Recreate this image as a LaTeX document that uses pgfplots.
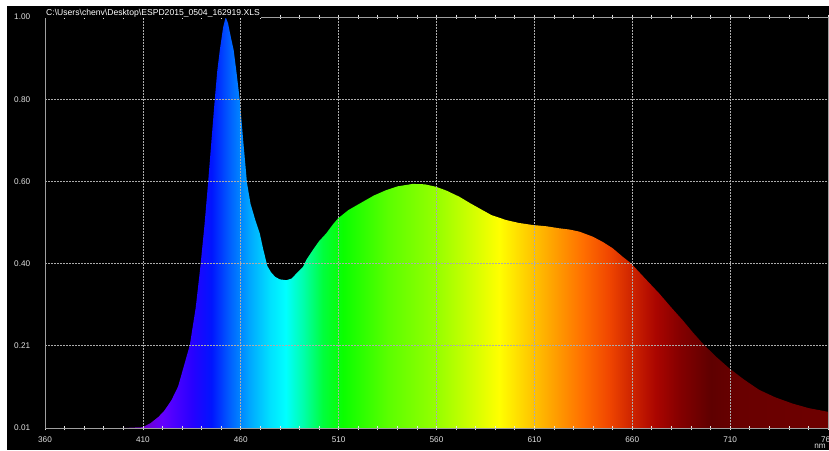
\documentclass[border=0pt]{standalone}
\usepackage{pgfplots}
\pgfplotsset{compat=1.18}
\usepackage{fontspec}
\setmainfont{Liberation Sans}
\pgfdeclarehorizontalshading{spectrum}{100bp}{%
color(0bp)=(rgb,255:red,120;green,60;blue,200);
color(25bp)=(rgb,255:red,120;green,60;blue,200);
color(30bp)=(rgb,255:red,100;green,0;blue,160);
color(31.25bp)=(rgb,255:red,110;green,0;blue,200);
color(32.5bp)=(rgb,255:red,100;green,0;blue,255);
color(34.375bp)=(rgb,255:red,40;green,0;blue,255);
color(35.625bp)=(rgb,255:red,0;green,20;blue,255);
color(36.875bp)=(rgb,255:red,0;green,100;blue,255);
color(38.125bp)=(rgb,255:red,0;green,170;blue,255);
color(39.375bp)=(rgb,255:red,0;green,225;blue,255);
color(40.375bp)=(rgb,255:red,0;green,255;blue,255);
color(41.5bp)=(rgb,255:red,0;green,255;blue,170);
color(42.75bp)=(rgb,255:red,0;green,255;blue,60);
color(44bp)=(rgb,255:red,10;green,255;blue,0);
color(46.875bp)=(rgb,255:red,90;green,255;blue,0);
color(50bp)=(rgb,255:red,150;green,255;blue,0);
color(52.5bp)=(rgb,255:red,215;green,255;blue,0);
color(54bp)=(rgb,255:red,255;green,255;blue,0);
color(55.625bp)=(rgb,255:red,255;green,210;blue,0);
color(57.5bp)=(rgb,255:red,255;green,160;blue,0);
color(59.375bp)=(rgb,255:red,255;green,110;blue,0);
color(61bp)=(rgb,255:red,240;green,70;blue,0);
color(62.5bp)=(rgb,255:red,205;green,35;blue,0);
color(64bp)=(rgb,255:red,170;green,5;blue,0);
color(65.625bp)=(rgb,255:red,130;green,0;blue,0);
color(67.5bp)=(rgb,255:red,95;green,0;blue,0);
color(69.375bp)=(rgb,255:red,105;green,0;blue,0);
color(75bp)=(rgb,255:red,110;green,0;blue,0);
color(100bp)=(rgb,255:red,110;green,0;blue,0)}
\pgfplotstableread{
wl v
360 0.01
400 0.01
410 0.012
414 0.022
418 0.037
421 0.052
424.6 0.077
428 0.11
431 0.16
434 0.21
437 0.30
439.4 0.40
441.5 0.50
443.3 0.60
445 0.70
446.7 0.80
448 0.87
449.3 0.92
451 0.975
452.3 1.00
453.5 0.985
455 0.95
456.4 0.92
458 0.86
459.5 0.80
461.3 0.70
463.2 0.60
465 0.55
467.5 0.51
469.7 0.479
471.5 0.44
473.6 0.40
475.5 0.385
477.6 0.374
480 0.368
483.3 0.366
486 0.37
489 0.385
491.8 0.398
493.5 0.415
497 0.44
500 0.46
503.7 0.479
507 0.50
509.7 0.515
515 0.535
522.4 0.555
528 0.57
534.3 0.583
540 0.592
547.9 0.598
554 0.597
559.8 0.591
565 0.582
571.7 0.567
577 0.552
581.9 0.539
588 0.523
595.5 0.511
602 0.504
609.1 0.499
616 0.496
622.8 0.491
628 0.488
633 0.483
639.8 0.471
645 0.458
650 0.443
655 0.423
659.3 0.407
666 0.373
673.8 0.334
680 0.30
685.7 0.27
691 0.24
696.7 0.21
703 0.181
709.5 0.154
717 0.127
724.8 0.102
733 0.084
741.8 0.069
750 0.058
760 0.049
}\spd
\begin{document}
\begin{tikzpicture}
\fill[white] (-22.5pt,-11pt) rectangle (392pt,214pt);
\fill[black] (-19pt,-11pt) rectangle (392pt,211pt);
\begin{axis}[
  name=ax,
  at={(0,0)}, anchor=south west,
  scale only axis, width=391.5pt, height=205.5pt,
  xmin=360, xmax=760, ymin=0.01, ymax=1.0,
  axis background/.style={fill=black},
  axis on top,
  xtick={360,410,...,760}, minor x tick num=4,
  ytick={0.01,0.208,0.406,0.604,0.802,1.0},
  yticklabels={0.01,0.21,0.40,0.60,0.80,1.00},
  /pgf/number format/assume math mode=true,
  /pgf/number format/1000 sep={},
  grid=major,
  major grid style={gray!65!white, dash pattern=on 1pt off 0.5pt, line width=0.35pt},
  axis line style={gray!75, line width=0.45pt},
  tick align=center,
  major tick length=2.4pt, minor tick length=2.4pt,
  xtick style={white!80!gray, line width=0.35pt},
  ytick style={draw=none},
  tick label style={font=\fontsize{4.1}{5}\selectfont, text=white!88!black},
  yticklabel style={anchor=east, inner sep=0pt, xshift=-6pt},
  xticklabel style={anchor=north, inner sep=0pt, yshift=-2.8pt},
]
\addplot[draw=none, shade, shading=spectrum] table[x=wl, y=v] {\spd} \closedcycle;
\end{axis}
\node[anchor=base west, fill=black, inner sep=0.4pt, text=white,
      font=\fontsize{4.3}{5}\selectfont] at ([yshift=0.6pt]ax.north west)
  {C:\textbackslash Users\textbackslash chenv\textbackslash Desktop\textbackslash ESPD2015\_0504\_162919.XLS};
\node[anchor=north, inner sep=0pt, text=white!88!black,
      font=\fontsize{4.1}{5}\selectfont] at ([xshift=-4pt,yshift=-7.6pt]ax.south east) {nm};
\pgfresetboundingbox
\path (-22.5pt,-11pt) rectangle (392pt,214pt);
\end{tikzpicture}
\end{document}
